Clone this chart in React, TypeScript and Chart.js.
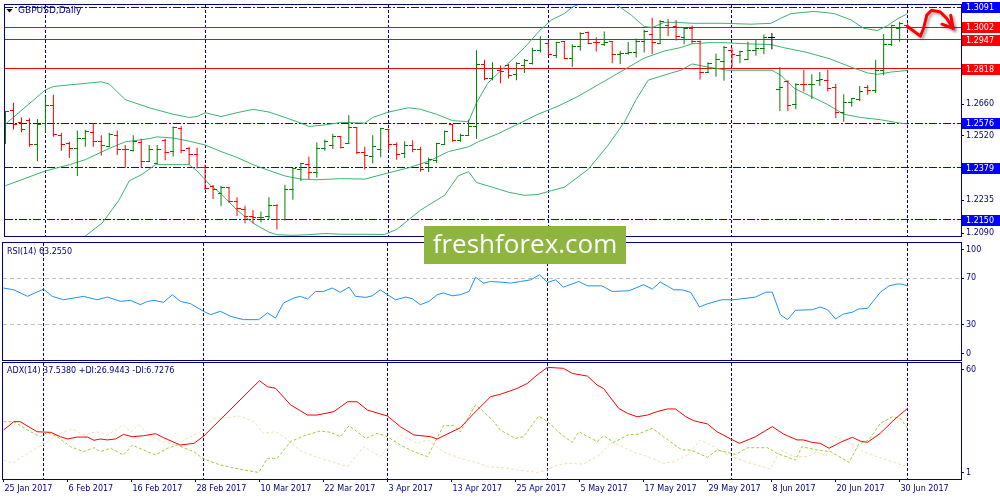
import React, { useEffect, useRef } from "react";
import { Chart, registerables } from "chart.js";

Chart.register(...registerables);

// GBPUSD daily bars, 25 Jan 2017 .. 3 Jul 2017
const opens = [
  1.2537, 1.2631, 1.258, 1.2588, 1.2482, 1.2577, 1.2655, 1.2523, 1.2487, 1.2465,
  1.2508, 1.2537, 1.2494, 1.2475, 1.2523, 1.2462, 1.2455, 1.2491, 1.2408, 1.24,
  1.2501, 1.2451, 1.2554, 1.2465, 1.2439, 1.2379, 1.2295, 1.2264, 1.229, 1.2232,
  1.2196, 1.2163, 1.2157, 1.2163, 1.2211, 1.2152, 1.2285, 1.2372, 1.2393, 1.2357,
  1.2465, 1.248, 1.2516, 1.2487, 1.2556, 1.2447, 1.2429, 1.2458, 1.2549, 1.2484,
  1.2441, 1.248, 1.2462, 1.24, 1.2412, 1.2482, 1.2569, 1.2501, 1.2523, 1.2562,
  1.2836, 1.2775, 1.2811, 1.2832, 1.2793, 1.2832, 1.2842, 1.29, 1.2928, 1.2878,
  1.2937, 1.2865, 1.2918, 1.2979, 1.2936, 1.2926, 1.294, 1.288, 1.2885, 1.289,
  1.294, 1.2969, 1.2928, 1.3009, 1.3005, 1.2954, 1.2998, 1.294, 1.2803, 1.2818,
  1.2851, 1.2897, 1.2875, 1.2857, 1.29, 1.2908, 1.2954, 1.2727, 1.276, 1.2659,
  1.275, 1.2746, 1.2767, 1.2767, 1.2736, 1.2623, 1.2667, 1.2681, 1.2736, 1.2721,
  1.2808, 1.2923, 1.2998, 1.3009,
];
const highs = [
  1.2631, 1.2667, 1.2602, 1.2599, 1.2595, 1.2695, 1.2703, 1.2534, 1.2494, 1.2544,
  1.2547, 1.2577, 1.2523, 1.2534, 1.2544, 1.248, 1.2523, 1.2508, 1.248, 1.248,
  1.2508, 1.2562, 1.2563, 1.2472, 1.2468, 1.2393, 1.2303, 1.23, 1.2295, 1.2249,
  1.2211, 1.2192, 1.2185, 1.2249, 1.2218, 1.2304, 1.2379, 1.24, 1.2429, 1.2491,
  1.2504, 1.253, 1.2518, 1.2612, 1.2559, 1.2472, 1.2523, 1.2556, 1.2552, 1.2491,
  1.2497, 1.2501, 1.2472, 1.2425, 1.249, 1.2544, 1.2573, 1.253, 1.2592, 1.29,
  1.2857, 1.2846, 1.2832, 1.2839, 1.2846, 1.2861, 1.2911, 1.2962, 1.294, 1.2937,
  1.294, 1.2926, 1.2979, 1.2983, 1.2957, 1.2983, 1.294, 1.2897, 1.2936, 1.2952,
  1.299, 1.3044, 1.3034, 1.3038, 1.3034, 1.3, 1.3009, 1.2943, 1.2846, 1.2885,
  1.2918, 1.2911, 1.2897, 1.2937, 1.2947, 1.2969, 1.2976, 1.2825, 1.2767, 1.2753,
  1.2813, 1.2793, 1.2803, 1.2813, 1.275, 1.2705, 1.2688, 1.2741, 1.2746, 1.2857,
  1.2972, 1.3012, 1.3026, 1.3019,
];
const lows = [
  1.2484, 1.2549, 1.2537, 1.2472, 1.2408, 1.2537, 1.2516, 1.2454, 1.2422, 1.2343,
  1.2472, 1.2472, 1.2434, 1.247, 1.2436, 1.2379, 1.2451, 1.2379, 1.2405, 1.2398,
  1.2412, 1.2429, 1.2444, 1.2393, 1.2376, 1.2281, 1.2241, 1.2209, 1.2224, 1.2166,
  1.2134, 1.2134, 1.2137, 1.2152, 1.2106, 1.2146, 1.2238, 1.2321, 1.2329, 1.2336,
  1.2454, 1.2462, 1.2465, 1.2484, 1.2439, 1.2372, 1.2398, 1.2426, 1.2458, 1.2415,
  1.2422, 1.2448, 1.2362, 1.236, 1.24, 1.248, 1.2494, 1.2494, 1.252, 1.2508,
  1.2767, 1.2767, 1.2753, 1.2775, 1.2767, 1.2799, 1.2836, 1.289, 1.288, 1.2865,
  1.2861, 1.2825, 1.2897, 1.2926, 1.2894, 1.2918, 1.2842, 1.2839, 1.288, 1.2868,
  1.289, 1.2882, 1.2928, 1.2962, 1.2943, 1.2926, 1.2928, 1.277, 1.2799, 1.2782,
  1.2764, 1.2825, 1.2842, 1.2857, 1.2875, 1.2882, 1.2904, 1.2631, 1.2631, 1.2638,
  1.2717, 1.2684, 1.2741, 1.2717, 1.2598, 1.2583, 1.2649, 1.2674, 1.2703, 1.271,
  1.2789, 1.2918, 1.2937, 1.299,
];
const closes = [
  1.2628, 1.2573, 1.2547, 1.2482, 1.2573, 1.2655, 1.2526, 1.2484, 1.2465, 1.2508,
  1.254, 1.2494, 1.248, 1.2527, 1.2462, 1.2458, 1.2494, 1.2408, 1.2458, 1.2462,
  1.2448, 1.2559, 1.2455, 1.2439, 1.2379, 1.2288, 1.2285, 1.2293, 1.2232, 1.2199,
  1.2163, 1.2159, 1.216, 1.2211, 1.2152, 1.2285, 1.2376, 1.2396, 1.2357, 1.2465,
  1.2497, 1.2516, 1.2468, 1.2556, 1.2447, 1.2434, 1.2472, 1.2552, 1.2484, 1.2436,
  1.248, 1.2462, 1.2372, 1.2415, 1.2487, 1.254, 1.2498, 1.2523, 1.2562, 1.2836,
  1.2775, 1.2818, 1.2806, 1.2789, 1.2839, 1.2854, 1.29, 1.2947, 1.2882, 1.2936,
  1.2861, 1.2918, 1.2976, 1.2928, 1.2933, 1.2936, 1.2882, 1.2885, 1.289, 1.294,
  1.2983, 1.2936, 1.3026, 1.3, 1.2962, 1.2998, 1.294, 1.2803, 1.2839, 1.2857,
  1.2911, 1.2882, 1.2894, 1.29, 1.2908, 1.2957, 1.2954, 1.2736, 1.2655, 1.275,
  1.2746, 1.275, 1.2772, 1.2731, 1.2623, 1.2667, 1.2684, 1.2717, 1.2721, 1.2808,
  1.2923, 1.3009, 1.3019, 1.3,
];

// x-axis labels, one every 8 bars
const tickDates = [
  "25 Jan 2017", "6 Feb 2017", "16 Feb 2017", "28 Feb 2017", "10 Mar 2017",
  "22 Mar 2017", "3 Apr 2017", "13 Apr 2017", "25 Apr 2017", "5 May 2017",
  "17 May 2017", "29 May 2017", "8 Jun 2017", "20 Jun 2017", "30 Jun 2017",
];
// first bar of each month (period separators)
const monthStarts = [5, 25, 48, 68, 91, 113];

const priceTicks = [1.3091, 1.2947, 1.2805, 1.266, 1.252, 1.2379, 1.2235, 1.209];
const redLevels = [1.3002, 1.2947, 1.2818];
const blueLevels = [1.3091, 1.2576, 1.2379, 1.215];

// Bollinger bands, [bar, price]
const bbUpper = [
  [0, 1.2573], [5, 1.2724], [6, 1.2739], [12, 1.276], [13, 1.275], [15, 1.2681],
  [18, 1.2645], [21, 1.2616], [23, 1.2602], [24, 1.2606], [25, 1.2623], [27, 1.2606],
  [29, 1.2623], [31, 1.2638], [33, 1.2626], [35, 1.2602], [37, 1.2577], [38, 1.2562],
  [40, 1.2569], [42, 1.258], [45, 1.2577], [46, 1.2602], [48, 1.2626], [50.5, 1.2645],
  [52, 1.2638], [54, 1.2616], [56, 1.2588], [58, 1.2583], [59, 1.2667], [60.4, 1.2753],
  [62.5, 1.2825], [65, 1.2911], [67, 1.299], [68.4, 1.3034], [70, 1.3062], [71, 1.3091],
  [72.5, 1.3113], [74, 1.3124], [75.5, 1.312], [76.7, 1.3098], [78.4, 1.3055], [80, 1.3005],
  [81, 1.3], [82.5, 1.3023], [84, 1.3023], [86, 1.3019], [90, 1.3019], [93.4, 1.3015],
  [95.9, 1.3019], [97.1, 1.3041], [98.4, 1.3062], [101.3, 1.3072], [103.8, 1.3062],
  [105.9, 1.3034], [107.5, 1.2997], [109.2, 1.2987], [110.5, 1.3009], [111.7, 1.3038],
  [113, 1.3062],
];
const bbMiddle = [
  [0, 1.23], [5, 1.2365], [8, 1.2393], [10, 1.2415], [13, 1.2465], [15, 1.2494],
  [18, 1.2508], [19, 1.2516], [21, 1.2511], [23, 1.2497], [25, 1.248], [27, 1.2451],
  [29, 1.2425], [31, 1.2393], [33, 1.2367], [35, 1.2343], [37, 1.2329], [39, 1.2326],
  [42, 1.2331], [45, 1.2329], [48, 1.2357], [50.5, 1.2379], [53, 1.2408], [55.5, 1.2451],
  [58, 1.2472], [59.2, 1.2494], [61.7, 1.253], [64.2, 1.2573], [66.7, 1.2616], [69.2, 1.2652],
  [71.7, 1.2695], [74.2, 1.2746], [76.3, 1.2789], [78.4, 1.2832], [80, 1.2865], [82.6, 1.2897],
  [84.5, 1.2911], [86, 1.2928], [88, 1.2933], [90, 1.2933], [93, 1.2928], [95.9, 1.2925],
  [97.5, 1.2911], [100.4, 1.289], [103.3, 1.2861], [105.9, 1.2825], [108, 1.2799],
  [109.2, 1.2793], [110.9, 1.2803], [113, 1.281],
];
const bbLower = [
  [0, 1.2026], [5, 1.2005], [8, 1.2034], [10, 1.2077], [12.1, 1.2134], [14.2, 1.2235],
  [15.5, 1.2321], [17.1, 1.235], [18.8, 1.2393], [23, 1.2393], [24, 1.2365], [25.5, 1.2307],
  [27, 1.2264], [29, 1.2192], [31, 1.2134], [33, 1.2094], [34, 1.2083], [36, 1.208],
  [38, 1.2083], [40, 1.2088], [42, 1.2085], [47.5, 1.2084], [49, 1.2106], [52, 1.2192],
  [55, 1.2257], [56.7, 1.2343], [58, 1.2362], [59, 1.2314], [61, 1.2293], [63, 1.2271],
  [65, 1.2257], [66.7, 1.2261], [68.4, 1.2278], [70, 1.2293], [73, 1.2372], [75.5, 1.248],
  [77.5, 1.258], [79, 1.2681], [80.5, 1.2767], [83.4, 1.2799], [84.6, 1.2811], [86, 1.2839],
  [88, 1.2825], [90.4, 1.2811], [96, 1.2811], [97.1, 1.2789], [98.8, 1.2731], [100.9, 1.2695],
  [103, 1.2659], [105, 1.2616], [107.1, 1.2602], [109.6, 1.2592], [112, 1.2577], [113, 1.2573],
];

// RSI(14), [bar, value]
const rsiValues = [
  [0, 61.5], [1.3, 60], [3, 54.4], [5, 60.6], [6.1, 54.4], [7.5, 51.5], [10, 54.4],
  [11.7, 51.5], [13, 53.8], [14.6, 50.1], [15.9, 51], [17.1, 47.3], [18, 50.1], [18.8, 51],
  [20, 49.3], [21.1, 55.8], [22.1, 50.1], [23.4, 48.1], [25, 41.6], [25.9, 38.8], [27.1, 41.6],
  [28.4, 37.3], [30, 34.5], [31.9, 34.5], [33, 40.2], [34, 35.9], [35, 48.7], [36.3, 53],
  [37.1, 54.4], [38, 52.1], [39, 58.6], [40, 58.6], [41.1, 61.5], [42.1, 57.8], [43.2, 62.3],
  [44, 54.4], [45.3, 53.5], [46.1, 54.9], [47.1, 60], [48, 55.8], [49, 51.5], [50.3, 53.8],
  [51.1, 52.4], [52.1, 47.3], [53.2, 50.1], [54.2, 55.8], [55, 57.2], [56.1, 54.9], [57.1, 55.8],
  [58.2, 58.6], [59, 70.8], [60, 65.7], [60.9, 67.1], [62.1, 66.6], [63.4, 65.7], [64.6, 67.1],
  [65.9, 68.5], [67, 72.8], [68, 66.3], [69, 68.5], [70, 62.3], [71.9, 67.1], [73, 63.4],
  [74.8, 63.4], [76.1, 58.6], [78.2, 59.2], [80, 64.3], [81.1, 60.6], [82.1, 66.6], [83.8, 60],
  [84.8, 60], [85.9, 57.8], [87, 45.3], [88, 48.1], [89.8, 51.5], [91.3, 51.5], [94, 53.8],
  [95.3, 58], [96.1, 58], [97.1, 38.8], [98, 34.5], [99, 42.5], [101.1, 43], [102.1, 45.3],
  [103, 43], [104, 35.1], [105, 39.3], [106.1, 40.8], [106.9, 43.6], [108, 44.1], [109.6, 57.8],
  [110.7, 63.4], [111.7, 64.9], [112.3, 64.9], [113, 63.3],
];
const rsiTicks = [100, 70, 30, 0];
const rsiLevels = [70, 30];

// ADX(14) with +DI / -DI, [bar, value]
const adxValues = [
  [0, 26.1], [1.3, 30.5], [2.1, 30.5], [4.2, 25.2], [5.9, 24.9], [7.1, 22.6], [8, 21.4],
  [9.2, 22.4], [10.5, 22.4], [11.3, 20.7], [12.1, 21.4], [13, 20.9], [14, 21.4], [15, 23.8],
  [16.1, 22.6], [17.5, 23.1], [19, 24.2], [20, 22.1], [22.1, 18.2], [23.8, 19.1], [25, 22.8],
  [32, 52.1], [33, 48.9], [34, 48.1], [35.9, 39.3], [38, 34], [39.2, 34], [41.3, 35.8],
  [43, 41], [44.2, 41], [45.5, 36.6], [48, 33.5], [49.6, 27.9], [51.3, 23.5], [53.4, 22.6],
  [54.2, 21.4], [57.1, 27.3], [58.8, 34.9], [60.9, 43.7], [62.1, 44.9], [64.2, 48],
  [65.5, 50.7], [66.7, 55.1], [68, 59.1], [70, 58.6], [71.1, 55.9], [73, 54.5], [74.2, 49.8],
  [75, 48], [76.9, 37.5], [78, 34.9], [79.2, 33.1], [80.5, 34], [81.7, 35.8], [83, 37.2],
  [84, 37.2], [85.3, 33.1], [86.3, 31], [88, 29.3], [89.2, 25.2], [90.9, 21.4], [92, 19.1],
  [94, 22.6], [96.1, 27.9], [97.5, 24], [99.2, 20.9], [100, 20.9], [101.1, 19.6], [102.1, 19.1],
  [103.2, 16.5], [104.6, 19.6], [106.1, 22.3], [107.1, 20.3], [108, 19.6], [109.6, 24.4],
  [111.3, 31.4], [113, 37.5],
];
const plusDI = [
  [0, 30.5], [1.3, 30.5], [3, 26.1], [4.6, 22.6], [5.5, 24.9], [6.7, 22.6], [8.4, 17.3],
  [10, 14.7], [11.3, 16.8], [12.1, 14.7], [13.4, 16.5], [15, 13], [16.1, 18.2], [17.5, 15.6],
  [19, 13], [20.5, 16.5], [21.7, 18.2], [23.8, 14.7], [25, 10.9], [27.1, 7.7], [30, 5.1],
  [31.9, 3.8], [33, 11.2], [34.2, 11.2], [35.9, 20], [37.5, 23], [39.6, 25.6], [40.9, 24.9],
  [42.1, 22.6], [43.2, 28.4], [45.3, 21.7], [46.7, 24.4], [48, 22.6], [49.6, 18.2],
  [51.3, 14.7], [53, 12.1], [55, 28.4], [56.3, 28.4], [57.1, 25.2], [59, 39.3], [60, 35.8],
  [61.3, 30.5], [62.1, 26.1], [64, 21.7], [65, 22.6], [66.9, 33.5], [68, 30.5], [69.8, 23.5],
  [71.1, 19.6], [71.9, 25.2], [74.2, 20], [75, 23.1], [76.3, 19.6], [78.2, 23.8], [79.2, 23.8],
  [81.1, 27], [82.5, 22.6], [84.8, 15.6], [85.9, 15.6], [88, 11.7], [89.2, 15.6], [91.5, 13.3],
  [93, 16.8], [95.5, 16.8], [96.7, 13.8], [99, 10.3], [99.8, 17.3], [101.7, 15.6], [103.4, 14.7],
  [105.7, 9.1], [106.9, 18.6], [108.2, 20.9], [109.6, 29.6], [111.1, 33.1], [112.1, 32.3],
  [113, 27],
];
const minusDI = [
  [0, 10.3], [1.1, 8.6], [3, 13.8], [4.8, 18.2], [6.7, 23.5], [8.6, 26.7], [10, 23.5],
  [11.7, 25.2], [13, 23.5], [15, 28.8], [15.9, 25.2], [16.9, 28.8], [18.4, 22.6], [20, 20],
  [21.5, 18.2], [23, 21.7], [24.6, 25.2], [26.3, 32.3], [27.5, 32.3], [29.6, 33.5], [31.3, 30.5],
  [32.5, 24.4], [34, 25.2], [35.3, 21.7], [37.3, 14.7], [39.6, 11.2], [41.3, 9.1], [43, 6.8],
  [45, 17.3], [47.1, 12.1], [49.6, 23.5], [51.7, 19.1], [53, 20.9], [55, 14.7], [57.1, 11.2],
  [58.8, 9.4], [60.5, 6.8], [62.1, 6.5], [64.2, 5.1], [66.7, 3.8], [68, 5.1], [69, 7.4],
  [70.5, 8.6], [72.5, 8.2], [74.6, 13.3], [75.9, 19.6], [77.1, 17.9], [78.8, 14.4], [80.5, 12.1],
  [82.5, 8.6], [83.8, 9.4], [85.5, 13], [87.1, 20.9], [88.8, 17.3], [90.5, 13], [93, 9.1],
  [95.9, 5.6], [97.1, 15.6], [98.8, 12.1], [100.5, 12.1], [101.7, 14.7], [102.8, 12.1],
  [104, 22.6], [105.5, 20], [107.5, 14.7], [109.2, 12.1], [111.3, 9.1], [113, 6.8],
];
const adxTicks = [60, 1];

// hand-drawn forecast arrow, [bar, price]
const arrowPath = [
  [113, 1.3005], [114.6, 1.2962], [115, 1.2997], [115.4, 1.3055], [116, 1.3077],
  [117.1, 1.3069], [117.9, 1.304], [118.7, 1.2997],
];
const arrowHead = [[117.3, 1.3015], [118.7, 1.2997], [118.4, 1.3055]];

const NAVY = "#000080";
const BULL = "#008000";
const BEAR = "#ff0000";
const FONT = "'DejaVu Sans', sans-serif";

const barKey = (i: number) => (closes[i] > opens[i] ? "bull" : closes[i] < opens[i] ? "bear" : "doji");
const barColor: any = { bull: BULL, bear: BEAR, doji: "#000000" };

const tickImage = (color: string, side: string) => {
  const c = document.createElement("canvas");
  c.width = 7;
  c.height = 1;
  const g = c.getContext("2d")!;
  g.fillStyle = color;
  g.fillRect(side === "open" ? 0 : 3, 0, 4, 1);
  return c;
};

const pts = (arr: number[][]) => arr.map(([x, y]) => ({ x, y }));

const xAxis = (visible: boolean) => ({
  type: "linear",
  min: -0.0625,
  max: 119.6875,
  offset: false,
  display: visible,
  border: { display: false },
  grid: { drawOnChartArea: false, drawTicks: true, tickLength: 3, color: NAVY },
  ticks: {
    autoSkip: false,
    maxRotation: 0,
    align: "start",
    padding: 2,
    labelOffset: 1,
    color: NAVY,
    callback: (v: number) => tickDates[Math.round(v / 8)] ?? "",
  },
  afterBuildTicks: (s: any) => {
    s.ticks = tickDates.map((_, k) => ({ value: k * 8 }));
  },
  afterFit: (s: any) => {
    s.height = visible ? 21 : 0;
    s.paddingLeft = 0;
    s.paddingRight = 0;
  },
});

// right price axis; edge labels are kept inside the panel like the terminal does
const yAxis = (min: number, max: number, labels: number[], fmt: (v: number) => string, insetPx: number, plotPx: number) => ({
  position: "right",
  min,
  max,
  border: { display: false },
  grid: { drawOnChartArea: false, drawTicks: true, tickLength: 3, color: NAVY },
  ticks: { padding: 2, color: NAVY, callback: (_v: number, i: number) => fmt(labels[i]) },
  afterBuildTicks: (s: any) => {
    const pad = ((s.max - s.min) * insetPx) / plotPx;
    s.ticks = labels.map((v) => ({ value: Math.min(s.max - pad, Math.max(s.min + pad, v)) }));
  },
  afterFit: (s: any) => {
    s.width = 39;
    s.paddingTop = 0;
    s.paddingBottom = 0;
  },
});

const drawSeparators = (chart: any) => {
  const { ctx, chartArea: a, scales } = chart;
  ctx.save();
  ctx.strokeStyle = NAVY;
  ctx.lineWidth = 1;
  ctx.setLineDash([3, 2]);
  monthStarts.forEach((m) => {
    const x = Math.floor(scales.x.getPixelForValue(m)) + 0.5;
    ctx.beginPath();
    ctx.moveTo(x, a.top);
    ctx.lineTo(x, a.bottom);
    ctx.stroke();
  });
  ctx.restore();
};

const drawHLines = (chart: any, values: number[], color: string, dash: number[]) => {
  const { ctx, chartArea: a, scales } = chart;
  ctx.save();
  ctx.strokeStyle = color;
  ctx.lineWidth = 1;
  ctx.setLineDash(dash);
  values.forEach((v) => {
    const y = Math.floor(scales.y.getPixelForValue(v)) + 0.5;
    ctx.beginPath();
    ctx.moveTo(a.left, y);
    ctx.lineTo(a.right, y);
    ctx.stroke();
  });
  ctx.restore();
};

const drawFrame = (chart: any) => {
  const { ctx, chartArea: a } = chart;
  ctx.save();
  ctx.strokeStyle = NAVY;
  ctx.lineWidth = 1;
  ctx.strokeRect(a.left - 0.5, a.top - 0.5, a.right - a.left + 1, a.bottom - a.top + 1);
  ctx.restore();
};

const drawLabel = (chart: any, text: string, x: number, y: number, size: number) => {
  const { ctx } = chart;
  ctx.save();
  ctx.fillStyle = NAVY;
  ctx.font = `${size}px ${FONT}`;
  ctx.textBaseline = "middle";
  ctx.fillText(text, x, y);
  ctx.restore();
};

const mainPlugin = {
  id: "mainDecor",
  beforeDatasetsDraw(chart: any) {
    drawSeparators(chart);
    drawHLines(chart, blueLevels, "#0000ff", [8, 2, 2, 2]);
    drawHLines(chart, redLevels, "#ff0000", []);
  },
  afterDraw(chart: any) {
    const { ctx, scales } = chart;
    drawFrame(chart);
    // symbol caption
    ctx.save();
    ctx.fillStyle = "#000000";
    ctx.beginPath();
    ctx.moveTo(6.5, 9);
    ctx.lineTo(12.5, 9);
    ctx.lineTo(9.5, 12.5);
    ctx.closePath();
    ctx.fill();
    ctx.restore();
    drawLabel(chart, "GBPUSD,Daily", 18, 11, 9);
    // level boxes on the price axis
    const box = (v: number, color: string) => {
      const y = Math.round(scales.y.getPixelForValue(v));
      ctx.save();
      ctx.fillStyle = color;
      ctx.fillRect(962, Math.max(0, y - 5), 38, 11);
      ctx.fillStyle = "#ffffff";
      ctx.font = `8px ${FONT}`;
      ctx.textBaseline = "middle";
      ctx.fillText(v.toFixed(4), 966, Math.max(5, y) + 0.5);
      ctx.restore();
    };
    blueLevels.forEach((v) => box(v, "#0000ff"));
    redLevels.forEach((v) => box(v, "#ff0000"));
    // forecast arrow
    const p = ([i, v]: number[]) => [scales.x.getPixelForValue(i), scales.y.getPixelForValue(v)];
    ctx.save();
    ctx.strokeStyle = "#ff0000";
    ctx.lineWidth = 3;
    ctx.lineJoin = "round";
    ctx.lineCap = "round";
    ctx.shadowColor = "rgba(0,0,0,0.35)";
    ctx.shadowBlur = 3;
    ctx.shadowOffsetX = 2;
    ctx.shadowOffsetY = 2;
    [arrowPath, arrowHead].forEach((path) => {
      ctx.beginPath();
      path.forEach((q, k) => {
        const [x, y] = p(q);
        if (k === 0) ctx.moveTo(x, y);
        else ctx.lineTo(x, y);
      });
      ctx.stroke();
    });
    ctx.restore();
  },
};

const rsiPlugin = {
  id: "rsiDecor",
  beforeDatasetsDraw(chart: any) {
    drawSeparators(chart);
    drawHLines(chart, rsiLevels, "#c0c0c0", [4, 3]);
  },
  afterDraw(chart: any) {
    drawFrame(chart);
    drawLabel(chart, "RSI(14) 63.2550", 7, 10.5, 8);
  },
};

const adxPlugin = {
  id: "adxDecor",
  beforeDatasetsDraw(chart: any) {
    drawSeparators(chart);
  },
  afterDraw(chart: any) {
    drawFrame(chart);
    drawLabel(chart, "ADX(14) 37.5380 +DI:26.9443 -DI:6.7276", 7, 10, 8);
  },
};

const baseOptions = (padding: any, scales: any) => ({
  responsive: false,
  animation: false,
  events: [],
  layout: { padding },
  plugins: { legend: { display: false }, tooltip: { enabled: false } },
  scales,
});

const App = () => {
  const mainRef = useRef<HTMLCanvasElement>(null);
  const rsiRef = useRef<HTMLCanvasElement>(null);
  const adxRef = useRef<HTMLCanvasElement>(null);

  useEffect(() => {
    document.body.style.margin = "0";
    Chart.defaults.font.family = FONT;
    Chart.defaults.font.size = 8;
    Chart.defaults.color = NAVY;
    if (!mainRef.current || !rsiRef.current || !adxRef.current) return;

    const openImg: any = {};
    const closeImg: any = {};
    Object.keys(barColor).forEach((k) => {
      openImg[k] = tickImage(barColor[k], "open");
      closeImg[k] = tickImage(barColor[k], "close");
    });

    const band = (arr: number[][]) => ({
      type: "line",
      data: pts(arr),
      borderColor: "#3cb371",
      borderWidth: 1,
      pointRadius: 0,
      tension: 0,
    });

    const main = new Chart(mainRef.current, {
      type: "line",
      data: {
        datasets: [
          {
            type: "line",
            data: opens.map((y, x) => ({ x, y })),
            showLine: false,
            pointRadius: 3,
            pointStyle: (c: any) => openImg[barKey(c.dataIndex)],
          },
          {
            type: "line",
            data: closes.map((y, x) => ({ x, y })),
            showLine: false,
            pointRadius: 3,
            pointStyle: (c: any) => closeImg[barKey(c.dataIndex)],
          },
          {
            type: "bar",
            data: opens.map((_, x) => ({ x, y: [lows[x], highs[x]] })),
            backgroundColor: (c: any) => barColor[barKey(c.dataIndex)],
            barThickness: 1,
            borderWidth: 0,
            inflateAmount: 0,
            grouped: false,
          },
          band(bbUpper),
          band(bbMiddle),
          band(bbLower),
        ],
      } as any,
      options: baseOptions(
        { left: 3, top: 3, bottom: 1, right: 0 },
        { x: xAxis(false), y: yAxis(1.2077, 1.31, priceTicks, (v) => v.toFixed(4), 0, 237) }
      ) as any,
      plugins: [mainPlugin],
    });

    const rsi = new Chart(rsiRef.current, {
      type: "line",
      data: {
        datasets: [
          { data: pts(rsiValues), borderColor: "#1e90ff", borderWidth: 1, pointRadius: 0, tension: 0 },
        ],
      } as any,
      options: baseOptions(
        { left: 3, top: 2, bottom: 1, right: 0 },
        { x: xAxis(false), y: yAxis(0, 100, rsiTicks, (v) => String(v), 6.5, 117) }
      ) as any,
      plugins: [rsiPlugin],
    });

    const adx = new Chart(adxRef.current, {
      type: "line",
      data: {
        datasets: [
          { data: pts(adxValues), borderColor: "#ff0000", borderWidth: 1, pointRadius: 0, tension: 0 },
          { data: pts(plusDI), borderColor: "#9acd32", borderWidth: 1, borderDash: [3, 2], pointRadius: 0, tension: 0 },
          { data: pts(minusDI), borderColor: "#f5deb3", borderWidth: 1, borderDash: [3, 2], pointRadius: 0, tension: 0 },
        ],
      } as any,
      options: baseOptions(
        { left: 3, top: 2, bottom: 0, right: 0 },
        { x: xAxis(true), y: yAxis(0.33, 61.4, adxTicks, (v) => String(v), 6.5, 116) }
      ) as any,
      plugins: [adxPlugin],
    });

    return () => {
      main.destroy();
      rsi.destroy();
      adx.destroy();
    };
  }, []);

  return (
    <div style={{ position: "relative", width: 1000, height: 500, background: "#ffffff", overflow: "hidden" }}>
      <canvas ref={mainRef} width={1000} height={241} style={{ position: "absolute", left: 0, top: 0 }} />
      <canvas ref={rsiRef} width={1000} height={120} style={{ position: "absolute", left: 0, top: 241 }} />
      <canvas ref={adxRef} width={1000} height={139} style={{ position: "absolute", left: 0, top: 361 }} />
      <div
        style={{
          position: "absolute",
          left: 424,
          top: 226,
          width: 202,
          height: 38,
          background: "#8db53f",
          color: "#ffffff",
          fontFamily: "'Open Sans', sans-serif",
          fontSize: 26,
          lineHeight: "34px",
          textAlign: "center",
        }}
      >
        freshforex.com
      </div>
    </div>
  );
};

export default App;
